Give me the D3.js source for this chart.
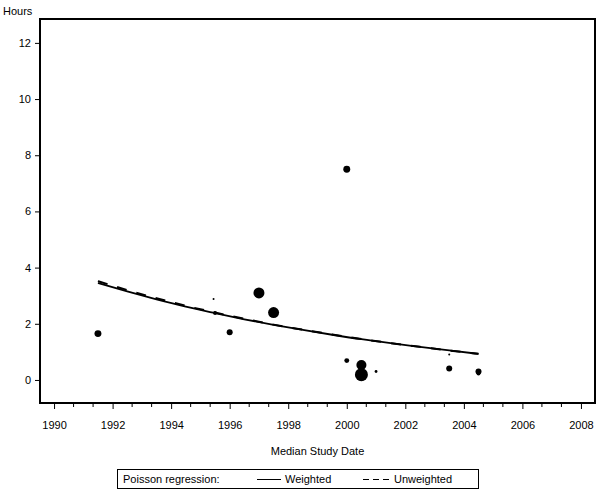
<!DOCTYPE html>
<html>
<head>
<meta charset="utf-8">
<script src="https://cdn.jsdelivr.net/npm/d3@7/dist/d3.min.js"></script>
<style>
  body { margin: 0; background: #fff; }
  text { font-family: "Liberation Sans", Arial, sans-serif; font-size: 11px; fill: #000; }
</style>
</head>
<body>
<svg id="chart" width="600" height="500"></svg>
<script>
// ---- data ----
const studyYears   = [1991.5, 1995.45, 1995.5, 1996, 1997, 1997.5, 2000, 2000, 2000.5, 2000.5, 2001, 2003.5, 2003.5, 2004.5, 2004.5];
const studyHours   = [1.65,   2.88,    2.38,   1.70, 3.10, 2.40,   7.50, 0.69, 0.53,   0.19,   0.30, 0.41,   0.91,   0.30,   0.23];
const studyWeights = [12,     1,       4,      9,    30,   30,     12,   6,    25,     42,     2,    9,      1,      9,      4];

const fitYears       = [1991.5, 1992.5, 1993.5, 1994.5, 1995.5, 1996.5, 1997.5, 1998.5, 1999.5, 2000.5, 2001.5, 2002.5, 2003.5, 2004.5];
const weightedFit    = [3.45,   3.15,   2.87,   2.61,   2.38,   2.16,   1.96,   1.78,   1.61,   1.45,   1.31,   1.18,   1.05,   0.93];
const unweightedFit  = [3.52,   3.20,   2.91,   2.64,   2.40,   2.18,   1.97,   1.79,   1.62,   1.46,   1.31,   1.18,   1.05,   0.93];

const xTickValues = [1990, 1992, 1994, 1996, 1998, 2000, 2002, 2004, 2006, 2008];
const yTickValues = [0, 2, 4, 6, 8, 10, 12];

// ---- layout ----
const svg = d3.select("#chart");
const pLeft = 40, pRight = 595, pTop = 19, pBottom = 403;

const x = d3.scaleLinear().domain([1989.52, 2008.48]).range([pLeft, pRight]);
const y = d3.scaleLinear().domain([-0.82, 12.85]).range([pBottom, pTop]);
const r = d3.scaleSqrt().domain([0, d3.max(studyWeights)]).range([0, 6.5]);

// minor ticks (two between majors)
const minorTicks = [];
for (let i = 0; i < xTickValues.length - 1; i++) {
  const a = xTickValues[i], b = xTickValues[i + 1];
  minorTicks.push(a + (b - a) / 3, a + 2 * (b - a) / 3);
}
svg.append("g").selectAll("line").data(minorTicks).join("line")
  .attr("x1", d => x(d)).attr("x2", d => x(d))
  .attr("y1", pBottom).attr("y2", pBottom + 4)
  .attr("stroke", "#000").attr("stroke-width", 1);

// x axis
const xAxis = svg.append("g").attr("transform", `translate(0,${pBottom})`)
  .call(d3.axisBottom(x).tickValues(xTickValues).tickFormat(d3.format("d")).tickSize(6).tickPadding(12));
xAxis.select(".domain").remove();
xAxis.selectAll("text").style("font-family", "Liberation Sans, Arial, sans-serif").style("font-size", "11px");

// y axis
const yAxis = svg.append("g").attr("transform", `translate(${pLeft},0)`)
  .call(d3.axisLeft(y).tickValues(yTickValues).tickFormat(d3.format("d")).tickSize(5).tickPadding(4));
yAxis.select(".domain").remove();
yAxis.selectAll("text").style("font-family", "Liberation Sans, Arial, sans-serif").style("font-size", "11px");

// frame
svg.append("rect").attr("x", pLeft).attr("y", pTop)
  .attr("width", pRight - pLeft).attr("height", pBottom - pTop)
  .attr("fill", "none").attr("stroke", "#000").attr("stroke-width", 2);

// axis labels
svg.append("text").attr("x", 3).attr("y", 15).text("Hours");
svg.append("text").attr("x", (pLeft + pRight) / 2).attr("y", 455)
  .attr("text-anchor", "middle").text("Median Study Date");

// fitted lines
const line = d3.line().x(d => x(d[0])).y(d => y(d[1])).curve(d3.curveMonotoneX);
svg.append("path").datum(fitYears.map((t, i) => [t, unweightedFit[i]]))
  .attr("d", line).attr("fill", "none").attr("stroke", "#000")
  .attr("stroke-width", 2).attr("stroke-dasharray", "10,10");
svg.append("path").datum(fitYears.map((t, i) => [t, weightedFit[i]]))
  .attr("d", line).attr("fill", "none").attr("stroke", "#000").attr("stroke-width", 1.8);

// points
svg.append("g").selectAll("circle").data(studyYears.map((t, i) => ({t, h: studyHours[i], w: studyWeights[i]})))
  .join("circle")
  .attr("cx", d => x(d.t)).attr("cy", d => y(d.h)).attr("r", d => r(d.w))
  .attr("fill", "#000");

// legend
const lg = svg.append("g");
lg.append("rect").attr("x", 117.5).attr("y", 469.5).attr("width", 361).attr("height", 19)
  .attr("fill", "none").attr("stroke", "#000").attr("stroke-width", 1);
lg.append("text").attr("x", 123).attr("y", 483).text("Poisson regression:");
lg.append("line").attr("x1", 257).attr("x2", 281).attr("y1", 479.5).attr("y2", 479.5)
  .attr("stroke", "#000").attr("stroke-width", 1);
lg.append("text").attr("x", 285).attr("y", 483).text("Weighted");
lg.append("line").attr("x1", 363).attr("x2", 390).attr("y1", 479.5).attr("y2", 479.5)
  .attr("stroke", "#000").attr("stroke-width", 1).attr("stroke-dasharray", "6,4");
lg.append("text").attr("x", 394).attr("y", 483).text("Unweighted");
</script>
</body>
</html>
